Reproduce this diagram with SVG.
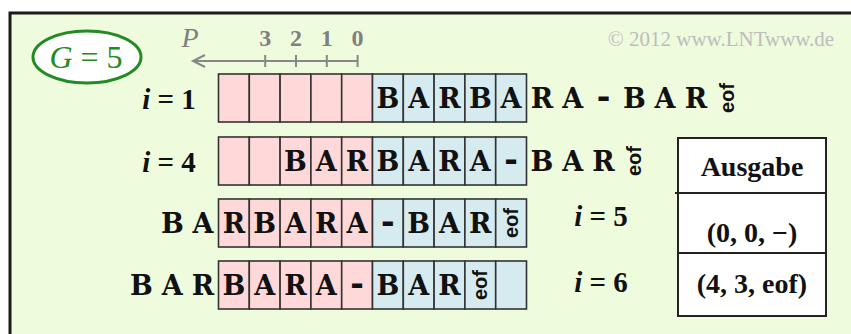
<svg xmlns="http://www.w3.org/2000/svg" width="851" height="334" viewBox="0 0 851 334">
  <style>
    .frame { fill: #eefbdd; stroke: #1a1a1a; stroke-width: 3; }
    .pink { fill: #ffd9d9; stroke: #333; stroke-width: 1.6; }
    .blue { fill: #d6ebf0; stroke: #333; stroke-width: 1.6; }
    .ch { font-family: "DejaVu Serif", "Liberation Serif", serif; font-weight: bold; font-size: 27px; fill: #111; text-anchor: middle; }
    .ch .dash { font-family: "Liberation Mono", monospace; font-weight: bold; font-size: 36px; }
    .eof { font-family: "Liberation Sans", Arial, sans-serif; font-weight: bold; font-size: 20px; fill: #111; text-anchor: middle; dominant-baseline: central; }
    .lbl { font-family: "Liberation Serif", "Times New Roman", serif; font-weight: bold; font-size: 29px; fill: #111; text-anchor: middle; }
    .tbl { font-family: "Liberation Serif", "Times New Roman", serif; font-weight: bold; font-size: 28px; fill: #111; text-anchor: middle; }
    .axis { stroke: #888; stroke-width: 2; fill: none; }
    .axtxt { font-family: "Liberation Serif", "Times New Roman", serif; font-weight: bold; font-size: 24px; fill: #808080; text-anchor: middle; }
  </style>

  <!-- frame (open to the right and bottom) -->
  <rect x="0" y="0" width="851" height="334" fill="#ffffff"/>
  <rect x="10" y="13" width="860" height="340" class="frame"/>

  <text x="721" y="46" font-family="Liberation Serif, Times New Roman, serif" font-size="21" fill="#bdbdbd" text-anchor="middle">© 2012 www.LNTwww.de</text>

  <!-- window size -->
  <g id="window-size">
    <ellipse cx="87" cy="57" rx="54" ry="26" fill="#ffffff" stroke="#228b22" stroke-width="3"/>
    <text x="86" y="68" font-family="Liberation Serif, Times New Roman, serif" font-size="32" fill="#228b22" text-anchor="middle"><tspan font-style="italic">G</tspan> = 5</text>
  </g>

  <!-- position axis P -->
  <g id="position-axis">
    <line x1="193" y1="61" x2="357.6" y2="61" class="axis"/>
    <polyline points="205,55 193,61 205,67" class="axis"/>
    <line x1="265.2" y1="55" x2="265.2" y2="67" class="axis"/>
    <line x1="296" y1="55" x2="296" y2="67" class="axis"/>
    <line x1="326.8" y1="55" x2="326.8" y2="67" class="axis"/>
    <line x1="357.6" y1="55" x2="357.6" y2="67" class="axis"/>
    <text x="190" y="47" font-family="Liberation Serif, Times New Roman, serif" font-style="italic" font-size="28" fill="#808080" text-anchor="middle">P</text>
    <text x="265.2" y="46" class="axtxt">3</text>
    <text x="296" y="46" class="axtxt">2</text>
    <text x="326.8" y="46" class="axtxt">1</text>
    <text x="357.6" y="46" class="axtxt">0</text>
  </g>

  <!-- step i = 1 -->
  <g id="step-1">
    <text x="169" y="109" class="lbl"><tspan font-style="italic">i</tspan> = 1</text>
    <rect x="218.5" y="74" width="30.8" height="48" class="pink"/>
    <rect x="249.3" y="74" width="30.8" height="48" class="pink"/>
    <rect x="280.1" y="74" width="30.8" height="48" class="pink"/>
    <rect x="310.9" y="74" width="30.8" height="48" class="pink"/>
    <rect x="341.7" y="74" width="30.8" height="48" class="pink"/>
    <rect x="372.5" y="74" width="30.8" height="48" class="blue"/>
    <rect x="403.3" y="74" width="30.8" height="48" class="blue"/>
    <rect x="434.1" y="74" width="30.8" height="48" class="blue"/>
    <rect x="464.9" y="74" width="30.8" height="48" class="blue"/>
    <rect x="495.7" y="74" width="30.8" height="48" class="blue"/>
    <text y="108" class="ch"><tspan x="387.9">B</tspan><tspan x="418.7">A</tspan><tspan x="449.5">R</tspan><tspan x="480.3">B</tspan><tspan x="511.1">A</tspan><tspan x="541.9">R</tspan><tspan x="572.7">A</tspan><tspan x="603.5" class="dash">-</tspan><tspan x="634.3">B</tspan><tspan x="665.1">A</tspan><tspan x="695.9">R</tspan></text>
    <text class="eof" transform="translate(726.7,98) rotate(-90)">eof</text>
  </g>

  <!-- step i = 4 -->
  <g id="step-4">
    <text x="169" y="172" class="lbl"><tspan font-style="italic">i</tspan> = 4</text>
    <rect x="218.5" y="137" width="30.8" height="48" class="pink"/>
    <rect x="249.3" y="137" width="30.8" height="48" class="pink"/>
    <rect x="280.1" y="137" width="30.8" height="48" class="pink"/>
    <rect x="310.9" y="137" width="30.8" height="48" class="pink"/>
    <rect x="341.7" y="137" width="30.8" height="48" class="pink"/>
    <rect x="372.5" y="137" width="30.8" height="48" class="blue"/>
    <rect x="403.3" y="137" width="30.8" height="48" class="blue"/>
    <rect x="434.1" y="137" width="30.8" height="48" class="blue"/>
    <rect x="464.9" y="137" width="30.8" height="48" class="blue"/>
    <rect x="495.7" y="137" width="30.8" height="48" class="blue"/>
    <text y="171" class="ch"><tspan x="295.5">B</tspan><tspan x="326.3">A</tspan><tspan x="357.1">R</tspan><tspan x="387.9">B</tspan><tspan x="418.7">A</tspan><tspan x="449.5">R</tspan><tspan x="480.3">A</tspan><tspan x="511.1" class="dash">-</tspan><tspan x="541.9">B</tspan><tspan x="572.7">A</tspan><tspan x="603.5">R</tspan></text>
    <text class="eof" transform="translate(634.3,161) rotate(-90)">eof</text>
  </g>

  <!-- step i = 5 -->
  <g id="step-5">
    <text x="601" y="226" class="lbl"><tspan font-style="italic">i</tspan> = 5</text>
    <rect x="218.5" y="199" width="30.8" height="48" class="pink"/>
    <rect x="249.3" y="199" width="30.8" height="48" class="pink"/>
    <rect x="280.1" y="199" width="30.8" height="48" class="pink"/>
    <rect x="310.9" y="199" width="30.8" height="48" class="pink"/>
    <rect x="341.7" y="199" width="30.8" height="48" class="pink"/>
    <rect x="372.5" y="199" width="30.8" height="48" class="blue"/>
    <rect x="403.3" y="199" width="30.8" height="48" class="blue"/>
    <rect x="434.1" y="199" width="30.8" height="48" class="blue"/>
    <rect x="464.9" y="199" width="30.8" height="48" class="blue"/>
    <rect x="495.7" y="199" width="30.8" height="48" class="blue"/>
    <text y="233" class="ch"><tspan x="172.3">B</tspan><tspan x="203.1">A</tspan><tspan x="233.9">R</tspan><tspan x="264.7">B</tspan><tspan x="295.5">A</tspan><tspan x="326.3">R</tspan><tspan x="357.1">A</tspan><tspan x="387.9" class="dash">-</tspan><tspan x="418.7">B</tspan><tspan x="449.5">A</tspan><tspan x="480.3">R</tspan></text>
    <text class="eof" transform="translate(511.1,223) rotate(-90)">eof</text>
  </g>

  <!-- step i = 6 -->
  <g id="step-6">
    <text x="601" y="292" class="lbl"><tspan font-style="italic">i</tspan> = 6</text>
    <rect x="218.5" y="261" width="30.8" height="48" class="pink"/>
    <rect x="249.3" y="261" width="30.8" height="48" class="pink"/>
    <rect x="280.1" y="261" width="30.8" height="48" class="pink"/>
    <rect x="310.9" y="261" width="30.8" height="48" class="pink"/>
    <rect x="341.7" y="261" width="30.8" height="48" class="pink"/>
    <rect x="372.5" y="261" width="30.8" height="48" class="blue"/>
    <rect x="403.3" y="261" width="30.8" height="48" class="blue"/>
    <rect x="434.1" y="261" width="30.8" height="48" class="blue"/>
    <rect x="464.9" y="261" width="30.8" height="48" class="blue"/>
    <rect x="495.7" y="261" width="30.8" height="48" class="blue"/>
    <text y="295" class="ch"><tspan x="141.5">B</tspan><tspan x="172.3">A</tspan><tspan x="203.1">R</tspan><tspan x="233.9">B</tspan><tspan x="264.7">A</tspan><tspan x="295.5">R</tspan><tspan x="326.3">A</tspan><tspan x="357.1" class="dash">-</tspan><tspan x="387.9">B</tspan><tspan x="418.7">A</tspan><tspan x="449.5">R</tspan></text>
    <text class="eof" transform="translate(480.3,285) rotate(-90)">eof</text>
  </g>

  <!-- output table -->
  <g id="output-table">
    <rect x="678" y="138" width="148" height="178" fill="#ffffff" stroke="#222" stroke-width="2"/>
    <line x1="675" y1="193" x2="826" y2="193" stroke="#222" stroke-width="2"/>
    <line x1="678" y1="253" x2="826" y2="253" stroke="#222" stroke-width="2"/>
    <text x="752" y="176" class="tbl">Ausgabe</text>
    <text x="752" y="242" class="tbl">(0, 0, −)</text>
    <text x="752" y="293" class="tbl">(4, 3, eof)</text>
  </g>
</svg>
